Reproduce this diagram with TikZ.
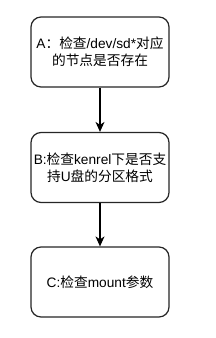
\documentclass[tikz,border=0pt]{standalone}
\usepackage{fontspec}
\setmainfont{Liberation Sans}
\newfontfamily\cjk{Noto Sans CJK SC}
\newcommand{\zh}[1]{{\cjk #1}}
\usetikzlibrary{arrows.meta}

\begin{document}
\begin{tikzpicture}[x=1pt,y=-1pt,line width=1.2pt,>={Stealth[length=10pt,width=9pt,inset=3pt]},
  paso/.style={draw=black!85,fill=white,rounded corners=10pt,minimum width=138pt,
    minimum height=70pt,align=center,inner sep=0pt,font=\fontsize{13.7}{17}\selectfont}]
  \useasboundingbox (0,0) rectangle (215,338);
  % pasos
  \node[paso] (A) at (100,52) {A\zh{：检查}/dev/sd*\zh{对应}\\\zh{的节点是否存在}};
  \node[paso] (B) at (100,167.5) {B:\zh{检查}kenrel\zh{下是否支}\\\zh{持}U\zh{盘的分区格式}};
  \node[paso] (C) at (100,282) {C:\zh{检查}mount\zh{参数}};
  % flechas
  \draw[->] (A) -- (B);
  \draw[->] (B) -- (C);
\end{tikzpicture}
\end{document}
